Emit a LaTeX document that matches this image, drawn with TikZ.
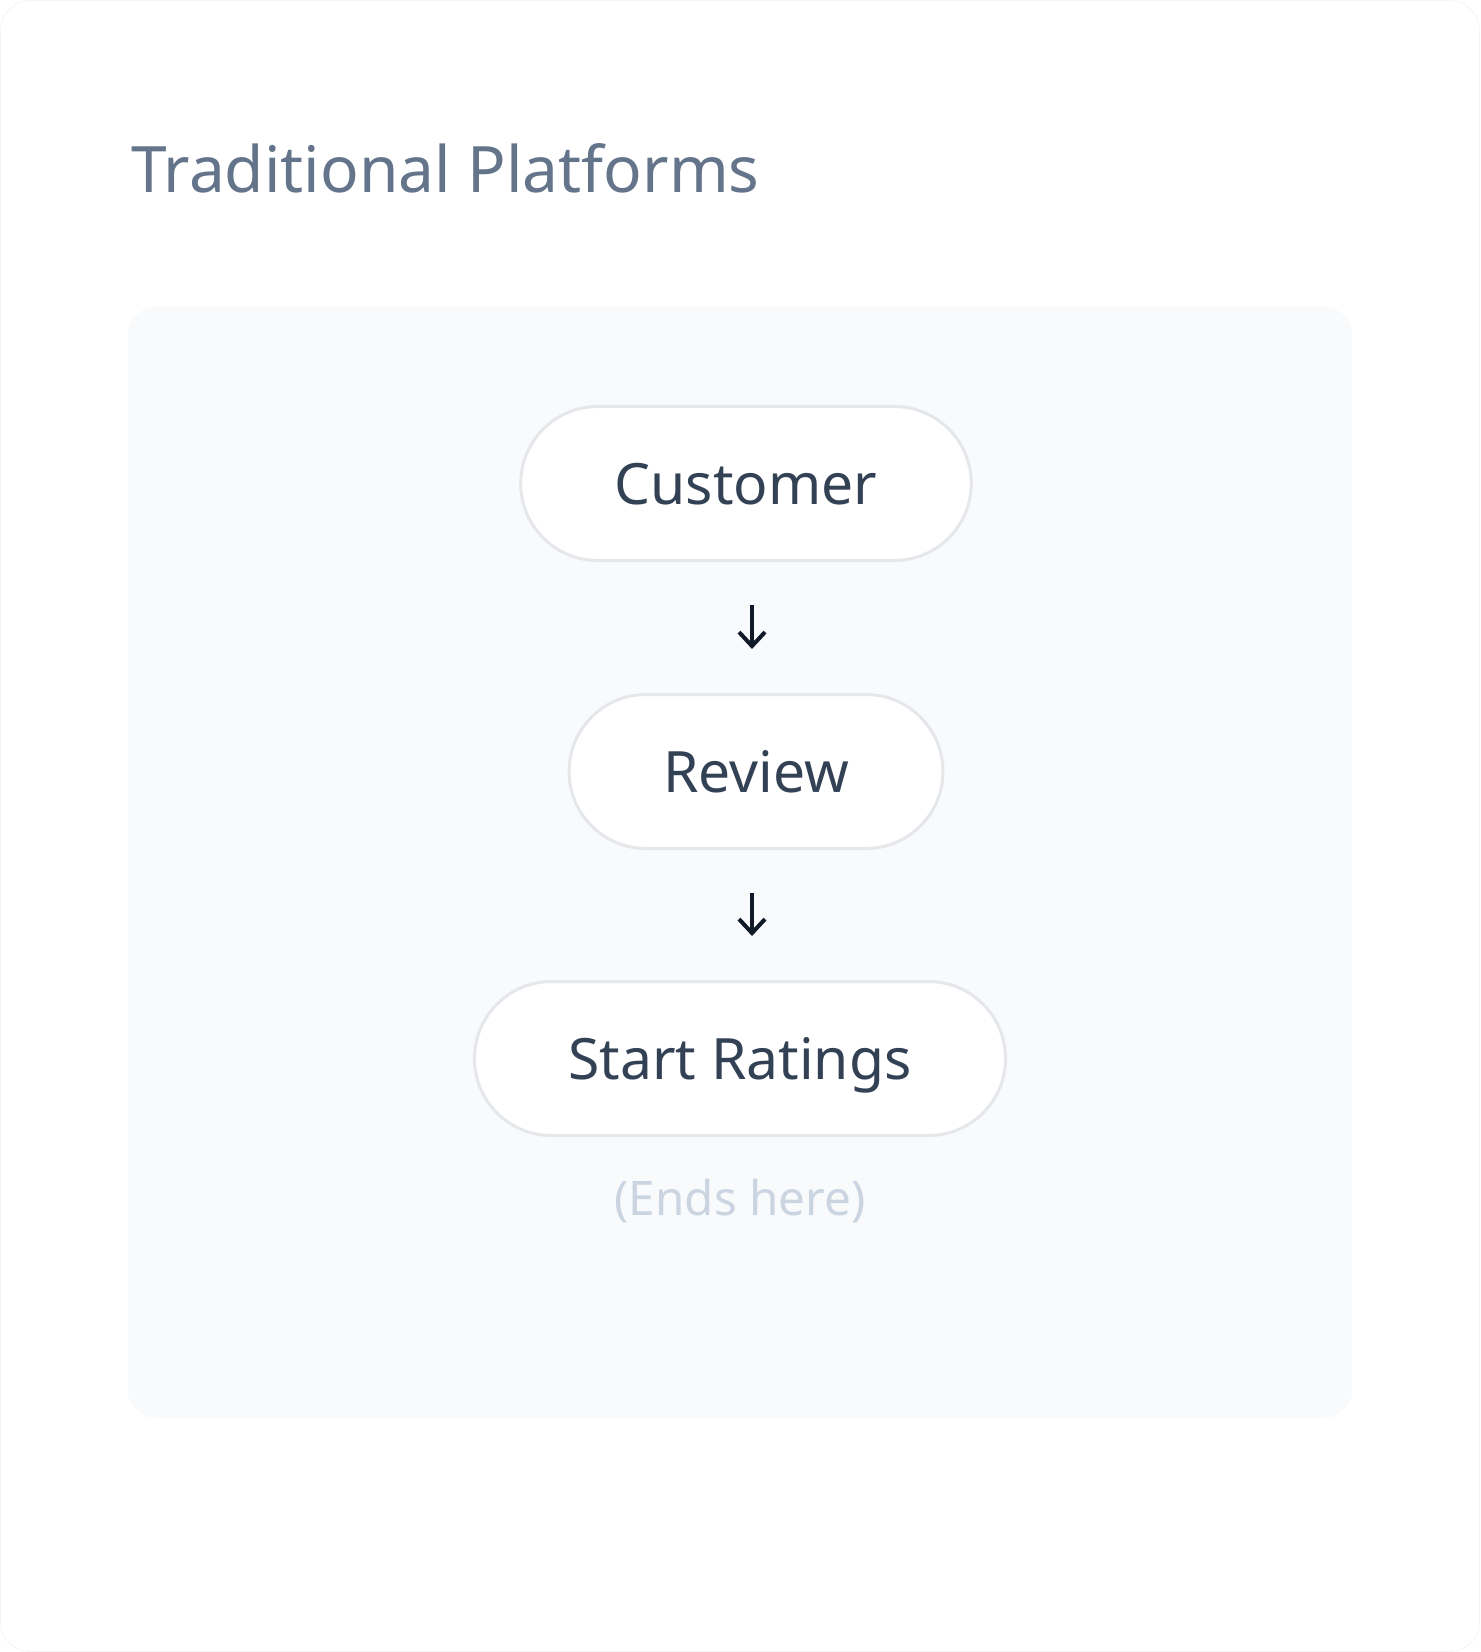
\documentclass[tikz,border=0pt]{standalone}
\usepackage{fontspec}
\setmainfont{Noto Sans}
\usetikzlibrary{positioning,arrows.meta}
\definecolor{panelbg}{HTML}{F8FAFC}
\definecolor{pillline}{HTML}{E5E7EB}
\definecolor{titlegray}{HTML}{64748B}
\definecolor{pilltext}{HTML}{334155}
\definecolor{notegray}{HTML}{CBD5E1}
\definecolor{arrowdark}{HTML}{111827}
\definecolor{cardline}{HTML}{F4F5F7}

\begin{document}
\begin{tikzpicture}
  [x=0.5pt,y=-0.5pt,
   pill/.style={draw=pillline,line width=1.5pt,fill=white,rounded corners=38.5pt,
     minimum height=77pt,inner xsep=47pt,text height=20.5pt,text depth=0pt,
     font=\fontsize{28.5}{34}\selectfont,text=pilltext},
   flow/.style={draw=arrowdark,line width=2pt,-{Straight Barb[length=7pt,width=13pt]}}]
  \useasboundingbox (0,0) rectangle (1480,1652);
  \draw[cardline,fill=white,line width=0.4pt,rounded corners=15pt] (0.5,0.5) rectangle (1479.5,1651.5);
  \fill[panelbg,rounded corners=14pt] (128,307) rectangle (1352,1418);

  \node[anchor=base west,inner sep=0pt,text=titlegray,font=\fontsize{32}{38}\selectfont] (title) at (131,193) {Traditional Platforms};

  \node[pill] (cust) at (746,483.5) {Customer};
  \node[pill,below=65.5pt of cust,xshift=5pt] (rev) {Review};
  \node[pill,below=65pt of rev,xshift=-8pt] (start) {Start Ratings};
  \node[anchor=base,inner sep=0pt,text=notegray,font=\fontsize{23.8}{28}\selectfont] (endnote) at ([yshift=-39pt]start.south) {(Ends here)};

\foreach \from/\to in
{cust/rev, rev/start}
    \draw[flow,shorten <=21.5pt,shorten >=22pt] ([xshift=-2pt]\from.south -| rev) -- ([xshift=-2pt]\to.north -| rev);
\end{tikzpicture}
\end{document}
